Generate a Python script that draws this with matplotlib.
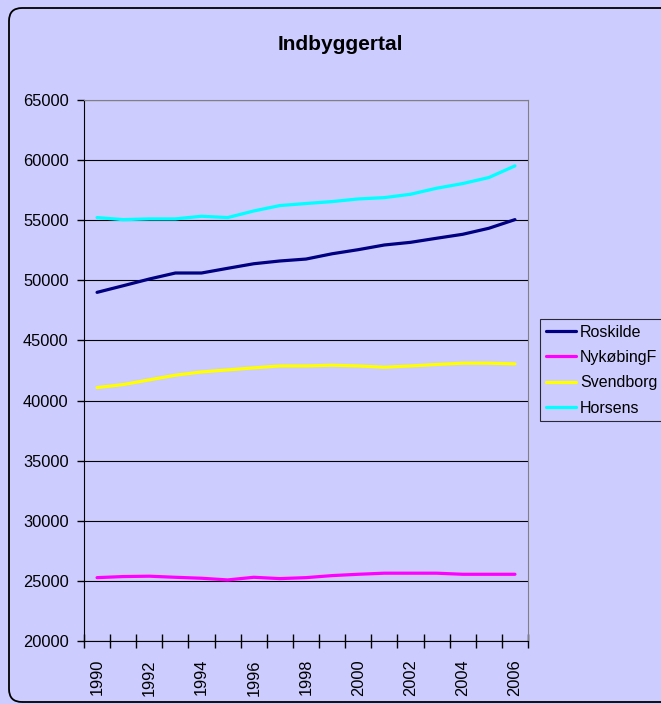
import matplotlib
matplotlib.use('Agg')
import matplotlib.pyplot as plt
from matplotlib.patches import FancyBboxPatch

plt.rcParams['font.family'] = ['Liberation Sans', 'DejaVu Sans']

# data
years = list(range(1990, 2007))
roskilde = [49000, 49550, 50110, 50610, 50610, 51000, 51380, 51610, 51770,
            52210, 52550, 52940, 53160, 53500, 53830, 54330, 55050]
nykobing = [25270, 25360, 25390, 25300, 25220, 25080, 25300, 25190, 25270,
            25440, 25550, 25640, 25640, 25640, 25550, 25550, 25550]
svendborg = [41080, 41330, 41720, 42110, 42380, 42550, 42720, 42880, 42880,
             42940, 42880, 42770, 42880, 43000, 43110, 43110, 43050]
horsens = [55220, 55050, 55110, 55110, 55330, 55220, 55770, 56220, 56390,
           56550, 56770, 56880, 57160, 57660, 58050, 58550, 59520]
series = [('Roskilde', roskilde, '#000080'),
          ('NykøbingF', nykobing, '#FF00FF'),
          ('Svendborg', svendborg, '#FFFF00'),
          ('Horsens', horsens, '#00FFFF')]
yticks = list(range(20000, 65001, 5000))

bg = '#CCCCFF'
fig = plt.figure(figsize=(6.61, 7.04), dpi=100, facecolor=bg)
ax = fig.add_axes([84/661, 1-641/704, 444/661, 541/704], facecolor=bg)

# outer rounded border
border = FancyBboxPatch((0.09, 0.02), 6.8, 6.94, boxstyle='round,pad=0,rounding_size=0.13',
                        transform=fig.dpi_scale_trans, facecolor='none',
                        edgecolor='black', linewidth=1.3, clip_on=False)
fig.patches.append(border)

pos = list(range(len(years)))
for name, vals, col in series:
    ax.plot(pos, vals, color=col, lw=2.3, label=name, solid_capstyle='round')

ax.set_xlim(-0.5, len(years) - 0.5)
ax.set_ylim(20000, 65000)
ax.set_yticks(yticks)
ax.set_yticklabels([str(v) for v in yticks])
ax.yaxis.grid(True, color='black', lw=0.8)
ax.set_axisbelow(True)
ax.tick_params(axis='y', direction='out', length=5, width=1, labelsize=11.8, pad=6)

# ticks between categories, labels on every second year
ax.set_xticks([p - 0.5 for p in range(len(years) + 1)])
ax.set_xticklabels([])
ax.set_xticks(pos[::2], minor=True)
ax.set_xticklabels([str(y) for y in years[::2]], minor=True, rotation=90)
ax.tick_params(axis='x', which='major', direction='inout', length=10, width=1)
ax.tick_params(axis='x', which='minor', length=0, labelsize=11.8, pad=13)

for s in ['top', 'right']:
    ax.spines[s].set_color('#808080')
for s in ['left', 'bottom']:
    ax.spines[s].set_color('black')

fig.text(340/661, 1-44/704, 'Indbyggertal', ha='center', va='center',
         fontsize=15, fontweight='bold')

leg = fig.legend(loc='upper left', bbox_to_anchor=(540/661, 1-319/704),
                 frameon=True, fancybox=False, fontsize=11.5, handlelength=1.9,
                 handletextpad=0.25, labelspacing=0.65, borderpad=0.35,
                 borderaxespad=0)
leg.get_frame().set_edgecolor('black')
leg.get_frame().set_facecolor(bg)
leg.get_frame().set_linewidth(0.8)

fig.savefig('out.png', dpi=100, facecolor=bg)
